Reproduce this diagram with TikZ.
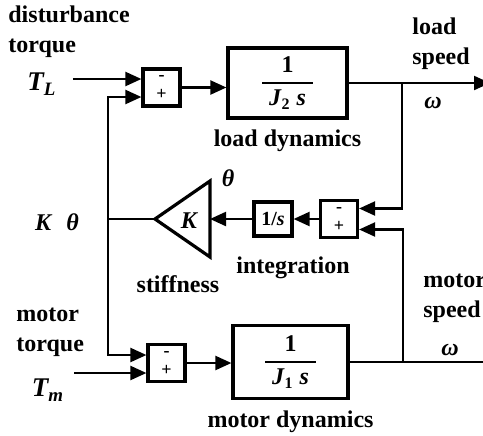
\documentclass[tikz,border=0pt]{standalone}
\usepackage{amsmath}
\usepackage{fontspec}
\setmainfont{Liberation Serif}
\usetikzlibrary{arrows.meta,positioning,calc}

\begin{document}
\begin{tikzpicture}[x=0.5pt,y=-0.5pt,>={Triangle[length=8pt,width=7pt]}, every node/.style={font=\fontsize{12}{15}\selectfont\bfseries, inner sep=1pt}]
\tikzstyle{blk}=[draw, line width=1.6pt]
\tikzstyle{sumblk}=[blk, minimum width=18.5pt, minimum height=18.5pt, align=center, inner sep=0pt, font=\fontsize{9}{9.5}\selectfont\bfseries]
\tikzstyle{sig}=[line width=1.1pt]
\useasboundingbox (0,0) rectangle (483,435);
% blocks
\node[sumblk] (sumL) at (161.5,87.5) {-\\+};
\node[blk, minimum width=59.5pt, minimum height=35pt] (load) at (287.5,83) {$\genfrac{}{}{1pt}{0}{\mbox{1}}{\mbox{\;\textit{J}\textsubscript{2} \textit{s}\;}}$};
\node[sumblk] (sumR) at (339,219) {-\\+};
\node[blk, minimum width=19pt, minimum height=17pt, font=\fontsize{10}{10}\selectfont\bfseries] (int) at (273,219) {1/\textit{s}};
\coordinate (gtip) at (155,219);
\coordinate (gbase) at (210,219);
\draw[blk, line join=miter] (210,181) -- (gtip) -- (210,257) -- cycle;
\node[font=\fontsize{12}{12}\selectfont\bfseries\itshape] (gain) at (189,221) {K};
\node[sumblk] (sumM) at (166.5,363) {-\\+};
\node[blk, minimum width=57.5pt, minimum height=36.5pt] (mot) at (290.5,362) {$\genfrac{}{}{1pt}{0}{\mbox{1}}{\mbox{\;\textit{J}\textsubscript{1} \textit{s}\;}}$};
% labels
\node[align=left, anchor=west] (dist) at (6,32) {disturbance\\torque};
\node (TL) at (42,84) {\fontsize{13.5}{14}\selectfont\textit{T\textsubscript{L}}};
\node[align=left, anchor=west] (lspd) at (410,44) {load\\speed};
\node (wL) at (433,103) {\textit{ω}};
\node[below=4pt of load] (loadlbl) {load dynamics};
\node (th) at (228,178) {\textit{θ}};
\node (Kth) at (57,222) {\textit{K}\hspace{7pt}\textit{θ}};
\node (stiff) at (178,284) {stiffness};
\node (integ) at (293,268) {integration};
\node[align=left, anchor=west] (mspd) at (421,298) {motor\\speed};
\node (wM) at (450,350) {\textit{ω}};
\node[align=left, anchor=west] (mtq) at (14,332) {motor\\torque};
\node (Tm) at (48,390) {\fontsize{13.5}{14}\selectfont\textit{T\textsubscript{m}}};
\node[below=4pt of mot] (motlbl) {motor dynamics};
% signal points
\coordinate (inL1) at ($(sumL.west)+(0,-8.5)$);
\coordinate (inL2) at ($(sumL.west)+(0,9.5)$);
\coordinate (inR1) at ($(sumR.east)+(0,-10.5)$);
\coordinate (inR2) at ($(sumR.east)+(0,10.5)$);
\coordinate (inM1) at ($(sumM.west)+(0,-8)$);
\coordinate (inM2) at ($(sumM.west)+(0,10)$);
\coordinate (jK) at (108,219);
\coordinate (jL) at (402,83);
\coordinate (jM) at (403,362);
\coordinate (outL) at (490,83);
\coordinate (outM) at (483,362);
% connectors
\draw[sig,->] ($(TL.east |- inL1)+(14,0)$) -- (inL1);
\draw[sig,->] (sumL.east) -- (sumL.east -| load.west);
\draw[sig,->] (load.east) -- (outL);
\draw[sig,->] (jL) |- (inR1);
\draw[sig,->] (jM) |- (inR2);
\draw[sig,->] (sumR.west) -- (int.east);
\draw[sig,->] (int.west) -- (gbase);
\draw[sig] (gtip) -- (jK);
\draw[sig,->] (jK) |- (inL2);
\draw[sig,->] (jK) |- (inM1);
\draw[sig,->] ($(Tm.east |- inM2)+(8,0)$) -- (inM2);
\draw[sig,->] (sumM.east) -- (sumM.east -| mot.west);
\draw[sig] (mot.east) -- (outM);
\end{tikzpicture}
\end{document}
